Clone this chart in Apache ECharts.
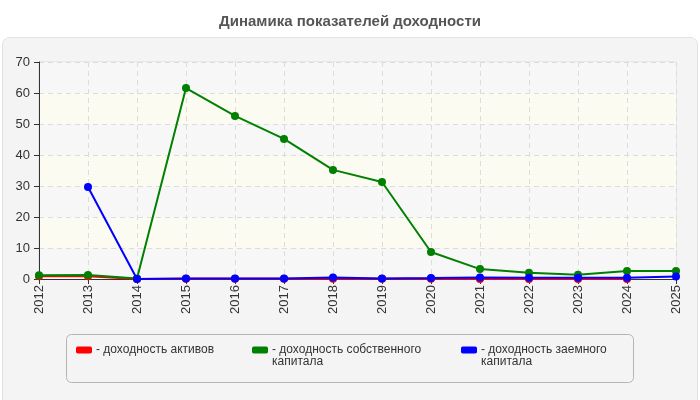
<!DOCTYPE html>
<html><head><meta charset="utf-8">
<script src="https://cdn.jsdelivr.net/npm/echarts@6/dist/echarts.min.js"></script>
<style>html,body{margin:0;padding:0;background:#fff}#c{width:700px;height:400px}</style>
</head><body><div id="c"></div>
<script>
const years = ['2012','2013','2014','2015','2016','2017','2018','2019','2020','2021','2022','2023','2024','2025'];
const assetsReturn = [0.9, 0.9, 0, 0.1, 0.1, 0.1, 0.1, 0.1, 0.1, 0, 0, 0, 0, null];
const equityReturn = [1.2, 1.3, 0.2, 61.6, 52.6, 45.2, 35.2, 31.3, 8.7, 3.2, 2.0, 1.4, 2.6, 2.6];
const debtReturn = [null, 29.7, 0, 0.2, 0.2, 0.2, 0.5, 0.2, 0.3, 0.5, 0.4, 0.4, 0.4, 0.8];
const yTicks = {min: 0, max: 70, interval: 10};
const names = ['- доходность активов', '- доходность собственного\nкапитала', '- доходность заемного\nкапитала'];
const colors = ['#ff0000', '#008000', '#0000ff'];
const font = 'Liberation Sans, Arial, sans-serif';

const chart = echarts.init(document.getElementById('c'));
function leg(i, left) {
  return {
    data: [names[i]], left: left, top: i === 0 ? 344 : 332, orient: 'horizontal',
    icon: 'roundRect', itemWidth: 16, itemHeight: 7, itemGap: 4, padding: 0,
    selectedMode: false,
    formatter: n => i === 0 ? n : ' \n' + n,
    textStyle: {fontFamily: font, fontSize: 12, color: '#333', lineHeight: 12, padding: [0,0,0,-1]}
  };
}
const mk = (i, data, z) => ({
  name: names[i], type: 'line', data: data, z: z,
  symbol: 'circle', symbolSize: 8, showSymbol: true,
  itemStyle: {color: colors[i]}, lineStyle: {color: colors[i], width: 2},
  connectNulls: false, animation: false
});
chart.setOption({
  animation: false,
  textStyle: {fontFamily: font},
  title: {text: 'Динамика показателей доходности', left: 'center', top: 9,
    textStyle: {fontFamily: font, fontSize: 15, fontWeight: 'bold', color: '#555'}},
  graphic: [
    {type: 'rect', z: -10, shape: {x: 2.5, y: 37.5, width: 695, height: 380, r: 7},
      style: {fill: '#f4f4f4', stroke: '#e2e2e2', lineWidth: 1}},
    {type: 'rect', z: -5, shape: {x: 66.5, y: 334.5, width: 567, height: 48, r: 5},
      style: {fill: '#f4f4f4', stroke: '#b5b5b5', lineWidth: 1}}
  ],
  legend: [leg(0, 76), leg(1, 252), leg(2, 461)],
  grid: {left: 39, right: 24, top: 62, bottom: 121, show: true, backgroundColor: '#f9f9f7', borderColor: '#dddddd', borderWidth: 1},
  xAxis: {
    type: 'category', data: years, boundaryGap: false,
    axisLine: {lineStyle: {color: '#333', width: 1}},
    axisTick: {show: true, length: 5, lineStyle: {color: '#333'}, alignWithLabel: true},
    axisLabel: {rotate: 90, fontSize: 13, color: '#333', fontFamily: font, margin: 6, interval: 0},
    splitLine: {show: true, lineStyle: {color: '#dcdcdc', type: [5, 4]}}
  },
  yAxis: {
    type: 'value', min: yTicks.min, max: yTicks.max, interval: yTicks.interval,
    axisLine: {show: true, lineStyle: {color: '#333', width: 1}},
    axisTick: {show: true, length: 5, lineStyle: {color: '#333'}},
    axisLabel: {fontSize: 13, color: '#333', fontFamily: font, margin: 9},
    splitLine: {show: true, lineStyle: {color: '#dcdcdc', type: [5, 4]}},
    splitArea: {show: true, areaStyle: {color: ['#f7f7f7', '#fbfbf2']}}
  },
  series: [mk(0, assetsReturn, 2), mk(1, equityReturn, 3), mk(2, debtReturn, 4)]
});
</script></body></html>
